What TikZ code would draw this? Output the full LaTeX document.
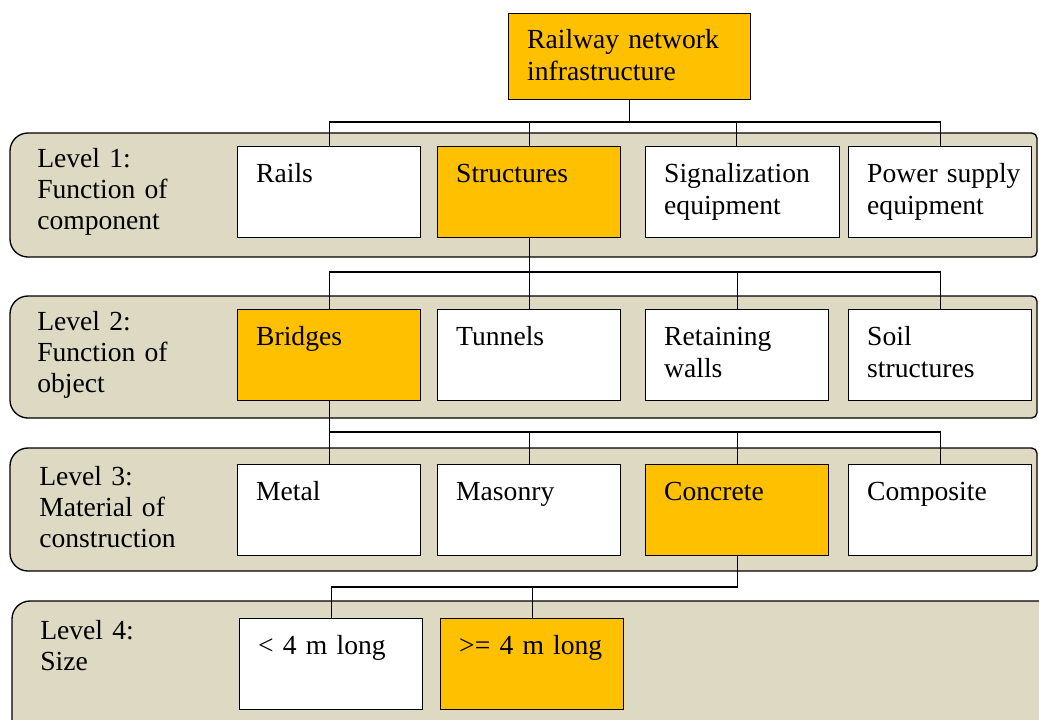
\documentclass[tikz,border=0pt]{standalone}
\usepackage{fontspec}
\setmainfont{Liberation Serif}
\usepackage{tikz}
\definecolor{bandtan}{RGB}{221,217,195}
\definecolor{chosenorange}{RGB}{255,192,0}

\begin{document}
\begin{tikzpicture}[
  x=0.75pt, y=-0.75pt,
  font=\fontsize{20.7}{23.5}\selectfont,
  band/.style={draw, fill=bandtan, line width=1pt},
  cell/.style={draw, fill=white, line width=1pt, anchor=north west, align=left,
               inner xsep=13.9pt, inner ysep=0pt, text width=#1,
               text height=27pt, text depth=41.25pt},
  cell/.default=109.5pt,
  chosen/.style={fill=chosenorange},
  lvl/.style={anchor=base west, align=left, inner sep=0pt, text width=140pt},
  wire/.style={line width=1pt}
]
\useasboundingbox (0,0) rectangle (1039,719);
\clip (0,0) rectangle (1039,719);

% Level bands
\draw[band, rounded corners=4pt] (500,133) -- (1037,133) -- (1037,257) -- (500,257)
  {[rounded corners=13.5pt] -- (10,257) -- (10,133)} -- cycle;
\draw[band, rounded corners=4pt] (500,296) -- (1037,296) -- (1037,418) -- (500,418)
  {[rounded corners=13.5pt] -- (10,418) -- (10,296)} -- cycle;
\draw[band, rounded corners=4pt] (500,448) -- (1037,448) -- (1037,571) -- (500,571)
  {[rounded corners=13.5pt] -- (10,571) -- (10,448)} -- cycle;
\draw[band, rounded corners=4pt] (500,601) -- (1060,601) -- (1060,740) -- (500,740)
  {[rounded corners=13.5pt] -- (12,740) -- (12,601)} -- cycle;

% Level labels
\node[lvl] (lv1) at (37,167) {Level 1:\\Function of\\component};
\node[lvl] (lv2) at (37,330) {Level 2:\\Function of\\object};
\node[lvl] (lv3) at (39,485) {Level 3:\\Material of\\construction};
\node[lvl] (lv4) at (40,639) {Level 4:\\Size};

% Root
\node[cell=153.75pt, chosen, text height=26.25pt, text depth=38.25pt] (root) at (508,13)
  {Railway network\\infrastructure};

% Level 1
\node[cell] (rails) at (237,146) {Rails};
\node[cell, chosen] (struct) at (437,146) {Structures};
\node[cell=117.75pt] (signal) at (645,146) {Signalization\\equipment};
\node[cell] (power) at (848,146) {\mbox{Power supply}\\equipment};

% Level 2
\node[cell, chosen] (bridges) at (237,309) {Bridges};
\node[cell] (tunnels) at (437,309) {Tunnels};
\node[cell] (walls) at (645,309) {Retaining\\walls};
\node[cell] (soil) at (848,309) {Soil\\structures};

% Level 3
\node[cell] (metal) at (237,464) {Metal};
\node[cell] (masonry) at (437,464) {Masonry};
\node[cell, chosen] (concrete) at (645,464) {Concrete};
\node[cell] (composite) at (848,464) {Composite};

% Level 4
\node[cell] (short) at (239,618) {< 4 m long};
\node[cell, chosen] (long) at (440,618) {>= 4 m long};

% Connectors
\coordinate (bus0) at (0,122);
\coordinate (bus1) at (0,272);
\coordinate (bus2) at (0,432);
\coordinate (bus3) at (0,587);
\coordinate (sigdrop) at ([xshift=-4.5pt]signal.north);

\foreach \c in {rails.north, struct.north, sigdrop, power.north}
  \draw[wire] (root.south) |- (\c |- bus0) -- (\c);
\foreach \c in {bridges, tunnels, walls, soil}
  \draw[wire] (struct.south) |- (\c.north |- bus1) -- (\c.north);
\foreach \c in {metal, masonry, concrete, composite}
  \draw[wire] (bridges.south) |- (\c.north |- bus2) -- (\c.north);
\foreach \c in {short, long}
  \draw[wire] (concrete.south) |- (\c.north |- bus3) -- (\c.north);

\end{tikzpicture}
\end{document}
